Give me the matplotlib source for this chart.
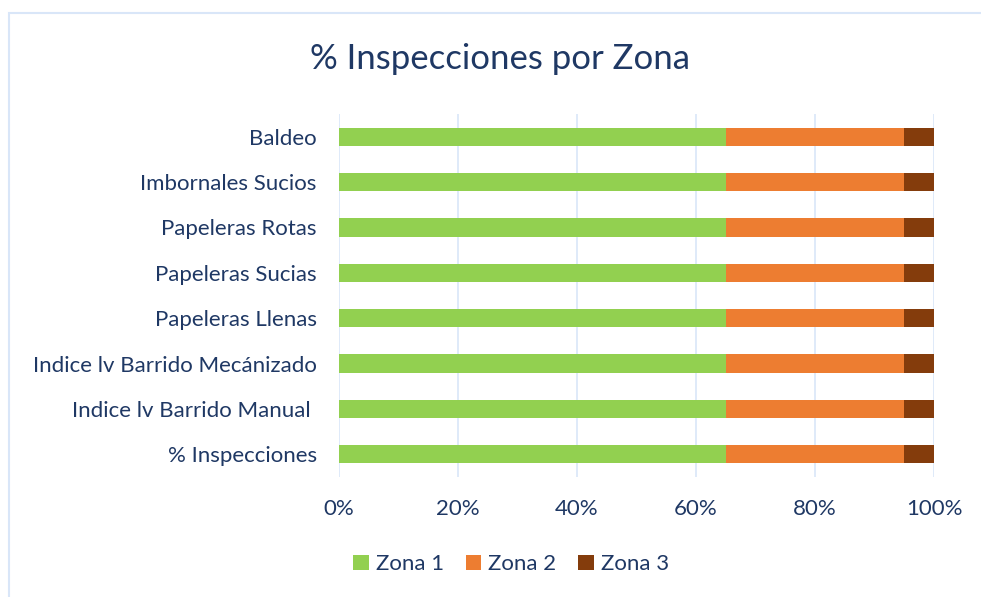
import matplotlib.pyplot as plt
from matplotlib.patches import Rectangle
from matplotlib.ticker import PercentFormatter

plt.rcParams["font.family"] = ["Lato", "DejaVu Sans"]

categories = [
    "% Inspecciones",
    "Indice lv Barrido Manual ",
    "Indice lv Barrido Mecánizado",
    "Papeleras Llenas",
    "Papeleras Sucias",
    "Papeleras Rotas",
    "Imbornales Sucios",
    "Baldeo",
]
zona1 = [65, 65, 65, 65, 65, 65, 65, 65]
zona2 = [30, 30, 30, 30, 30, 30, 30, 30]
zona3 = [5, 5, 5, 5, 5, 5, 5, 5]
series = [("Zona 1", zona1), ("Zona 2", zona2), ("Zona 3", zona3)]
colors = ["#92d050", "#ed7d31", "#843c0c"]

text_color = "#1f3864"
grid_color = "#d9e6f8"

fig = plt.figure(figsize=(9.81, 5.97), dpi=100)
ax = fig.add_axes([0.3456, 0.201, 0.6065, 0.608])

# light blue frame around the chart area (cropped screenshot)
fig.add_artist(Rectangle((9 / 981, -0.1), 1.2, 1 - 13 / 597 + 0.1,
                         transform=fig.transFigure, fill=False,
                         edgecolor=grid_color, linewidth=1.5))

left = [0] * len(categories)
for (name, vals), c in zip(series, colors):
    ax.barh(categories, vals, left=left, height=0.4, color=c, label=name,
            zorder=3)
    left = [l + v for l, v in zip(left, vals)]

ax.set_xlim(0, 100)
ax.set_ylim(-0.5, len(categories) - 0.5)
ax.set_xticks([0, 20, 40, 60, 80, 100])
ax.xaxis.set_major_formatter(PercentFormatter(decimals=0))
ax.grid(axis="x", color=grid_color, linewidth=1.2, zorder=0)
for s in ax.spines.values():
    s.set_visible(False)
ax.tick_params(length=0, labelsize=16, labelcolor=text_color)
ax.tick_params(axis="x", pad=16)
ax.tick_params(axis="y", pad=16)

fig.text(0.51, 0.902, "% Inspecciones por Zona", ha="center", va="center",
         fontsize=25, color=text_color)

leg = fig.legend(loc="center", bbox_to_anchor=(0.521, 0.055), ncol=3,
                 frameon=False, fontsize=16, handlelength=0.7,
                 handleheight=0.7, handletextpad=0.3, columnspacing=1.0)
for t in leg.get_texts():
    t.set_color(text_color)

fig.savefig("out.png", dpi=100)
